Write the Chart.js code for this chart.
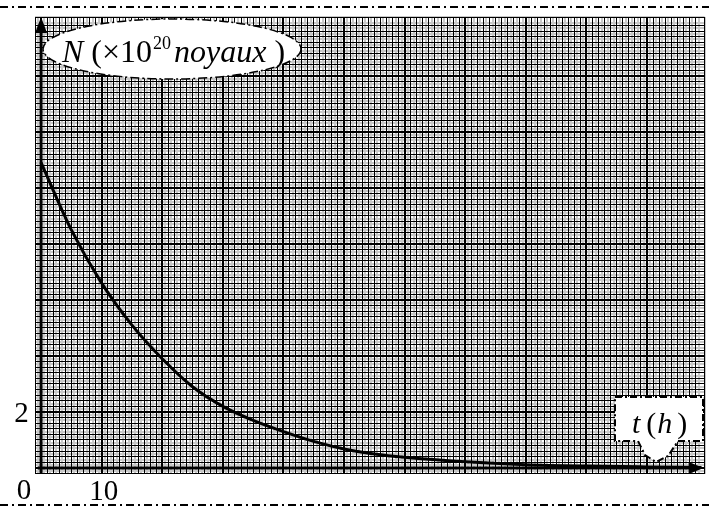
<!DOCTYPE html>
<html>
<head>
<meta charset="utf-8">
<script src="https://cdn.jsdelivr.net/npm/chart.js@4.4.0/dist/chart.umd.min.js"></script>
<style>
  html, body { margin: 0; padding: 0; background: #fff; }
  #wrap { width: 709px; height: 510px; }
</style>
</head>
<body>
<div id="wrap"><canvas id="decayChart" width="709" height="510"></canvas></div>
<script>
// t in hours
const times = [0, 5, 10, 15, 20, 25, 30, 35, 40, 45, 50, 55, 60, 70, 80, 90, 100, 109];
// N in 10^20 nuclei
const nuclei = [10.9, 8.5, 6.6, 5.1, 3.9, 2.9, 2.2, 1.7, 1.3, 0.95, 0.68, 0.5, 0.38, 0.22, 0.12, 0.07, 0.04, 0.02];
const xTickLabels = [10];
const yTickLabels = [2];
const originLabel = '0';

const serif = '"Liberation Serif", "DejaVu Serif", serif';

const X_MIN = -1, X_MAX = 109.5;
const Y_MIN = -0.2, Y_MAX = 16.1;

// graph paper: black lines (minor + major) over grey half lines
const isMajor = (v, every) => Math.round(v / every * 1000) % 1000 === 0;
const blackGrid = every => ({
  drawTicks: false,
  z: -1,
  color: '#000',
  lineWidth: c => isMajor(c.tick.value, every) ? 2 : 1
});
const greyGrid = step => ({
  drawTicks: false,
  z: -2,
  color: c => isMajor(c.tick.value, step * 2) ? 'rgba(0,0,0,0)' : '#c8c8c8',
  lineWidth: 2
});

function dashLine(ctx, y) {
  ctx.save();
  ctx.strokeStyle = '#000';
  ctx.lineWidth = 2;
  ctx.setLineDash([8, 4, 2, 4]);
  ctx.beginPath();
  ctx.moveTo(0, y);
  ctx.lineTo(709, y);
  ctx.stroke();
  ctx.restore();
}

// draws pieces one after another, each {text, font, dy, gap}
function drawRun(ctx, x, y, pieces) {
  pieces.forEach(p => {
    ctx.font = p.font;
    x += p.gap || 0;
    ctx.fillText(p.text, x, y + (p.dy || 0));
    x += ctx.measureText(p.text).width;
  });
}

const decor = {
  id: 'decor',
  beforeDatasetsDraw(chart) {
    const { ctx, scales: { x, y } } = chart;
    const x0 = x.getPixelForValue(0);
    const y0 = y.getPixelForValue(0);
    ctx.save();
    ctx.strokeStyle = '#000';
    ctx.fillStyle = '#000';
    ctx.lineWidth = 3;
    ctx.beginPath();
    ctx.moveTo(x0, y.bottom);
    ctx.lineTo(x0, y.top + 10);
    ctx.moveTo(x.left + 3, y0);
    ctx.lineTo(x.right - 10, y0);
    ctx.stroke();
    // arrow heads
    ctx.beginPath();
    ctx.moveTo(x0, y.top);
    ctx.lineTo(x0 - 6, y.top + 16);
    ctx.lineTo(x0 + 6, y.top + 16);
    ctx.closePath();
    ctx.fill();
    ctx.beginPath();
    ctx.moveTo(x.right - 1, y0);
    ctx.lineTo(x.right - 16, y0 - 6);
    ctx.lineTo(x.right - 16, y0 + 6);
    ctx.closePath();
    ctx.fill();
    ctx.restore();
  },
  afterDatasetsDraw(chart) {
    const { ctx, scales: { x, y } } = chart;
    ctx.save();
    ctx.fillStyle = '#000';

    // tick labels
    ctx.font = '29px ' + serif;
    ctx.textAlign = 'center';
    ctx.textBaseline = 'alphabetic';
    xTickLabels.forEach(v => ctx.fillText(String(v), x.getPixelForValue(v) + 2, 500));
    yTickLabels.forEach(v => ctx.fillText(String(v), 21.5, y.getPixelForValue(v) + 10));
    ctx.fillText(originLabel, 24, 499);

    // y axis title in an ellipse
    ctx.beginPath();
    ctx.ellipse(172, 49, 129, 30, 0, 0, Math.PI * 2);
    ctx.fillStyle = '#fff';
    ctx.fill();
    ctx.setLineDash([9, 3, 2, 3]);
    ctx.lineWidth = 1.5;
    ctx.strokeStyle = '#000';
    ctx.stroke();
    ctx.setLineDash([]);

    ctx.fillStyle = '#000';
    ctx.textAlign = 'left';
    const big = '32px ' + serif, bigIt = 'italic 32px ' + serif;
    drawRun(ctx, 62, 62, [
      { text: 'N', font: bigIt },
      { text: '(', font: big, gap: 8 },
      { text: '\u00d710', font: big },
      { text: '20', font: '18px ' + serif, dy: -13, gap: 1 },
      { text: 'noyaux', font: bigIt, gap: 3 },
      { text: ')', font: big, gap: 8 }
    ]);

    // x axis title in a callout box
    ctx.beginPath();
    ctx.moveTo(615, 397);
    ctx.lineTo(703, 397);
    ctx.lineTo(703, 441);
    ctx.lineTo(678, 441);
    ctx.lineTo(668, 456);
    ctx.lineTo(656, 462);
    ctx.lineTo(645, 455);
    ctx.lineTo(638, 441);
    ctx.lineTo(615, 441);
    ctx.closePath();
    ctx.fillStyle = '#fff';
    ctx.fill();
    ctx.setLineDash([7, 3, 2, 3]);
    ctx.lineWidth = 2;
    ctx.stroke();
    ctx.setLineDash([]);

    ctx.fillStyle = '#000';
    drawRun(ctx, 632, 433, [
      { text: 't', font: 'italic 30px ' + serif },
      { text: '(', font: '30px ' + serif, gap: 6 },
      { text: 'h', font: 'italic 30px ' + serif, gap: 1 },
      { text: ')', font: '30px ' + serif, gap: 5 }
    ]);
    ctx.restore();
  },
  afterDraw(chart) {
    dashLine(chart.ctx, 7);
    dashLine(chart.ctx, 505);
  }
};

const hiddenTicks = step => ({ stepSize: step, display: false });

new Chart(document.getElementById('decayChart'), {
  type: 'line',
  data: {
    datasets: [{
      data: times.map((t, i) => ({ x: t, y: nuclei[i] })),
      borderColor: '#000',
      borderWidth: 3,
      pointRadius: 0,
      cubicInterpolationMode: 'monotone',
      fill: false
    }]
  },
  options: {
    responsive: false,
    animation: false,
    devicePixelRatio: 1,
    layout: { padding: { left: 35, top: 17, right: 4.4, bottom: 36.4 } },
    plugins: { legend: { display: false }, tooltip: { enabled: false } },
    scales: {
      x: {
        type: 'linear', position: 'bottom', min: X_MIN, max: X_MAX,
        ticks: hiddenTicks(1), border: { display: false }, grid: blackGrid(10)
      },
      y: {
        type: 'linear', position: 'left', min: Y_MIN, max: Y_MAX,
        ticks: hiddenTicks(0.2), border: { display: false }, grid: blackGrid(2)
      },
      xHalf: {
        type: 'linear', axis: 'x', position: 'bottom', min: X_MIN, max: X_MAX,
        ticks: hiddenTicks(0.5), border: { display: false }, grid: greyGrid(0.5)
      },
      yHalf: {
        type: 'linear', axis: 'y', position: 'left', min: Y_MIN, max: Y_MAX,
        ticks: hiddenTicks(0.1), border: { display: false }, grid: greyGrid(0.1)
      }
    }
  },
  plugins: [decor]
});
</script>
</body>
</html>
